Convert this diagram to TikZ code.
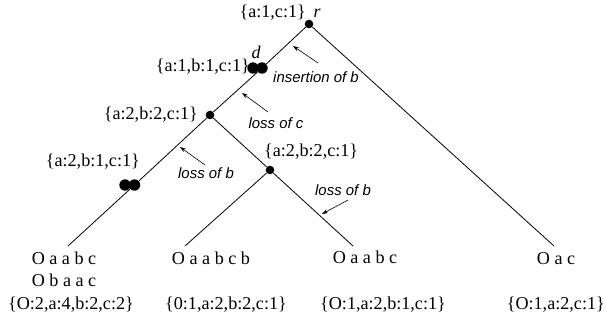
\documentclass[tikz,border=0pt]{standalone}
\usepackage{fontspec}
\setmainfont{Liberation Serif}
\newfontfamily\labsans{Liberation Sans}
\usetikzlibrary{arrows.meta}
\begin{document}
\begin{tikzpicture}[x=1bp,y=-1bp,
  edge/.style={line width=0.8pt},
  dot/.style={circle,fill,inner sep=0pt,minimum size=8.6bp},
  bigdot/.style={circle,fill,inner sep=0pt,minimum size=11.4bp},
  lab/.style={font=\fontsize{18.2}{21}\selectfont,inner sep=0pt},
  vname/.style={font=\fontsize{18}{21}\selectfont\itshape,inner sep=0pt},
  note/.style={font=\labsans\itshape\fontsize{15}{18}\selectfont,inner sep=0pt},
  ptr/.style={line width=0.6pt,-{Stealth[length=6bp,width=4bp]}}]
\useasboundingbox (0,0) rectangle (606,322);
% tree nodes
\node[dot] (r) at (309,24) {};
\node[bigdot] (d1) at (253,68) {};
\node[bigdot] (d2) at (262,68) {};
\node[dot] (n1) at (210,115) {};
\node[bigdot] (b1) at (125,185) {};
\node[bigdot] (b2) at (134.5,185) {};
\node[dot] (n2) at (270,170) {};
\coordinate (l1) at (68,246);
\coordinate (l2) at (185,246);
\coordinate (l3) at (353,246);
\coordinate (l4) at (554,246);
% edges
\draw[edge] (r) -- (d2) -- (n1) -- (b2) -- (l1);
\draw[edge] (r) -- (l4);
\draw[edge] (n1) -- (n2) -- (l3);
\draw[edge] (n2) -- (l2);
% node labels
\node[lab,anchor=east] (tr) at (306,13) {\{a:1,c:1\}};
\node[vname] (tlr) at (317,13) {r};
\node[vname] (tld) at (256,52) {d};
\node[lab,anchor=east] (td) at (250,67) {\{a:1,b:1,c:1\}};
\node[lab,anchor=east] (tn1) at (198,115) {\{a:2,b:2,c:1\}};
\node[lab,anchor=east] (tb) at (140,162) {\{a:2,b:1,c:1\}};
\node[lab,anchor=west] (tn2) at (264,152) {\{a:2,b:2,c:1\}};
% events
\node[note] (e1) at (316,77) {insertion of b};
\node[note] (e2) at (276,123) {loss of c};
\node[note] (e3) at (206,173) {loss of b};
\node[note] (e4) at (343,190) {loss of b};
\coordinate (a1s) at (318,63);
\coordinate (a1e) at (293,46);
\coordinate (a2s) at (268,112);
\coordinate (a2e) at (242,93);
\coordinate (a3s) at (205,165);
\coordinate (a3e) at (180,147);
\coordinate (a4s) at (348,200);
\coordinate (a4e) at (322,214);
\draw[ptr] (a1s) -- (a1e);
\draw[ptr] (a2s) -- (a2e);
\draw[ptr] (a3s) -- (a3e);
\draw[ptr] (a4s) -- (a4e);
% leaves
\node[lab] (s1) at (64,258) {O a a b c};
\node[lab] (s1b) at (64,280) {O b a a c};
\node[lab] (c1) at (71,305) {\{O:2,a:4,b:2,c:2\}};
\node[lab] (s2) at (211,258) {O a a b c b};
\node[lab] (c2) at (226,305) {\{0:1,a:2,b:2,c:1\}};
\node[lab] (s3) at (365,257) {O a a b c};
\node[lab] (c3) at (383,305) {\{O:1,a:2,b:1,c:1\}};
\node[lab] (s4) at (556,259) {O a c};
\node[lab,anchor=east] (c4) at (605,305) {\{O:1,a:2,c:1\}};
\end{tikzpicture}
\end{document}
